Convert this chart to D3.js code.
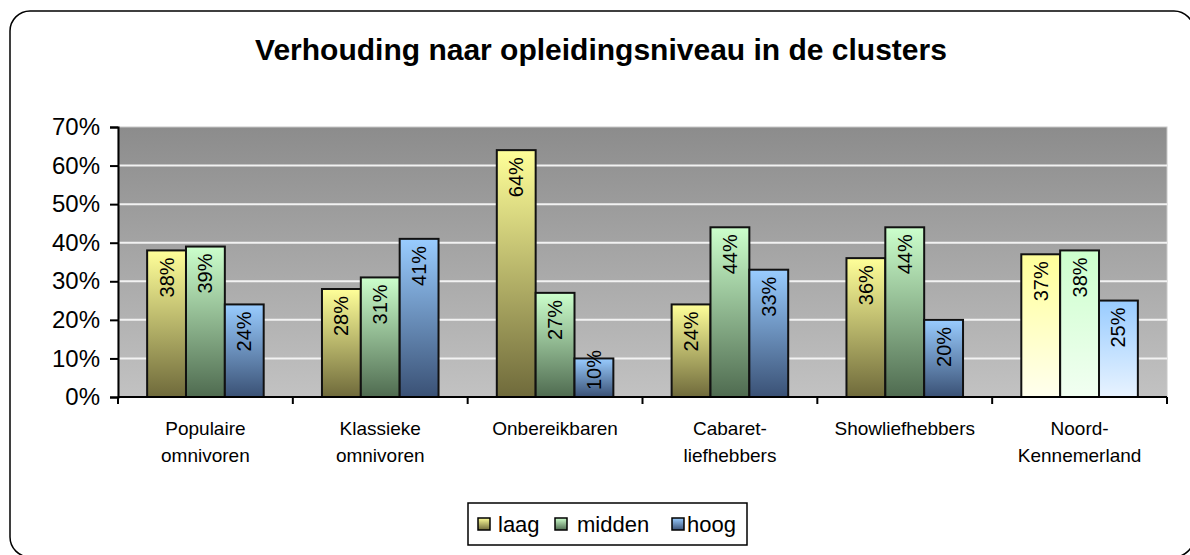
<!DOCTYPE html>
<html>
<head>
<meta charset="utf-8">
<script src="https://cdn.jsdelivr.net/npm/d3@7"></script>
<style>
  body { margin: 0; background: #fff; }
  text { font-family: "Liberation Sans", Arial, sans-serif; }
</style>
</head>
<body>
<div id="chart"></div>
<script>
// Data
const categories = [
  ['Populaire', 'omnivoren'],
  ['Klassieke', 'omnivoren'],
  ['Onbereikbaren'],
  ['Cabaret-', 'liefhebbers'],
  ['Showliefhebbers'],
  ['Noord-', 'Kennemerland']
];
const seriesNames = ['laag', 'midden', 'hoog'];
const laag = [0.38, 0.28, 0.64, 0.24, 0.36, 0.37];
const midden = [0.39, 0.31, 0.27, 0.44, 0.44, 0.38];
const hoog = [0.24, 0.41, 0.10, 0.33, 0.20, 0.25];
const yTicks = [0, 0.1, 0.2, 0.3, 0.4, 0.5, 0.6, 0.7];

const seriesValues = [laag, midden, hoog];
const topColors = ['#ffff99', '#ccffcc', '#99ccff'];
const bottomColors = ['#6f6a3b', '#4f6b50', '#3a5175'];
const lightBottoms = ['#ffffee', '#f2fff2', '#e8f3ff'];

const width = 1190, height = 555;
const margin = {top: 127, right: 23, bottom: 158, left: 118};
const innerW = width - margin.left - margin.right;
const innerH = height - margin.top - margin.bottom;

const svg = d3.select('#chart').append('svg')
    .attr('width', width)
    .attr('height', height);

const defs = svg.append('defs');

// plot area gradient
const bg = defs.append('linearGradient')
    .attr('id', 'bg').attr('x1', 0).attr('y1', 0).attr('x2', 0).attr('y2', 1);
bg.append('stop').attr('offset', '0%').attr('stop-color', '#8c8c8c');
bg.append('stop').attr('offset', '100%').attr('stop-color', '#c2c2c2');

// bar gradients
seriesNames.forEach((s, i) => {
  const g = defs.append('linearGradient')
      .attr('id', 'g-' + s).attr('x1', 0).attr('y1', 0).attr('x2', 0).attr('y2', 1);
  g.append('stop').attr('offset', '0%').attr('stop-color', topColors[i]);
  g.append('stop').attr('offset', '100%').attr('stop-color', bottomColors[i]);
  const l = defs.append('linearGradient')
      .attr('id', 'l-' + s).attr('x1', 0).attr('y1', 0).attr('x2', 0).attr('y2', 1);
  l.append('stop').attr('offset', '0%').attr('stop-color', topColors[i]);
  l.append('stop').attr('offset', '100%').attr('stop-color', lightBottoms[i]);
});

// outer rounded border
svg.append('rect')
    .attr('x', 10).attr('y', 11)
    .attr('width', 1184).attr('height', 546)
    .attr('rx', 20).attr('ry', 20)
    .attr('fill', '#fff')
    .attr('stroke', '#000')
    .attr('stroke-width', 1.5);

// title
svg.append('text')
    .attr('x', 601).attr('y', 60)
    .attr('text-anchor', 'middle')
    .style('font-size', '30px')
    .style('font-weight', 'bold')
    .text('Verhouding naar opleidingsniveau in de clusters');

const chart = svg.append('g')
    .attr('transform', `translate(${margin.left},${margin.top})`);

const x0 = d3.scaleBand()
    .domain(d3.range(categories.length))
    .range([0, innerW])
    .paddingInner(0)
    .paddingOuter(0);

// gap width 150% -> bar width = band / 4.5
const barW = x0.bandwidth() / 4.5;
const x1 = d3.scaleBand()
    .domain(seriesNames)
    .range([barW * 0.75, barW * 3.75]);

const y = d3.scaleLinear()
    .domain([0, 0.7])
    .range([innerH, 0]);

// plot background
chart.append('rect')
    .attr('width', innerW).attr('height', innerH)
    .attr('fill', 'url(#bg)')
    .attr('stroke', '#c8c8c8')
    .attr('stroke-width', 1);

// gridlines
chart.selectAll('.grid')
    .data(yTicks.filter(d => d > 0 && d < 0.7))
    .join('line')
    .attr('class', 'grid')
    .attr('x1', 0).attr('x2', innerW)
    .attr('y1', d => y(d)).attr('y2', d => y(d))
    .attr('stroke', '#f2f2f2')
    .attr('stroke-width', 2);

// bars
const rows = categories.map((c, i) => seriesNames.map((s, j) => ({cat: i, s: s, v: seriesValues[j][i]})));
const groups = chart.selectAll('.grp')
    .data(rows)
    .join('g')
    .attr('class', 'grp')
    .attr('transform', (d, i) => `translate(${x0(i)},0)`);

groups.selectAll('rect')
    .data(d => d)
    .join('rect')
    .attr('x', d => x1(d.s))
    .attr('y', d => y(d.v))
    .attr('width', x1.bandwidth())
    .attr('height', d => innerH - y(d.v))
    .attr('fill', d => d.cat === categories.length - 1 ? `url(#l-${d.s})` : `url(#g-${d.s})`)
    .attr('stroke', '#111')
    .attr('stroke-width', 2);

// value labels, rotated, near bar top
const labelLen = 40;
groups.selectAll('.val')
    .data(d => d)
    .join('text')
    .attr('class', 'val')
    .attr('transform', d => {
      let topY = y(d.v) + 7;
      if (topY + labelLen > innerH - 7) topY = innerH - 7 - labelLen;
      const cx = x1(d.s) + x1.bandwidth() / 2;
      return `translate(${cx + 7},${topY}) rotate(-90)`;
    })
    .attr('text-anchor', 'end')
    .style('font-size', '20px')
    .text(d => Math.round(d.v * 100) + '%');

// y axis
const yAxis = d3.axisLeft(y)
    .tickValues(yTicks)
    .tickSize(8)
    .tickPadding(10)
    .tickFormat(d3.format('.0%'));

chart.append('g')
    .attr('class', 'axis y-axis')
    .call(yAxis)
    .call(g => g.selectAll('line').attr('stroke', '#000').attr('stroke-width', 2))
    .call(g => g.select('.domain').attr('stroke', '#000').attr('stroke-width', 2))
    .call(g => g.selectAll('text').style('font-size', '24px').attr('fill', '#000'));

// x axis line with ticks at band edges
const xAxisG = chart.append('g')
    .attr('transform', `translate(0,${innerH})`);
xAxisG.append('line')
    .attr('x1', 0).attr('x2', innerW)
    .attr('stroke', '#000').attr('stroke-width', 2);
xAxisG.selectAll('.xt')
    .data(d3.range(categories.length + 1))
    .join('line')
    .attr('class', 'xt')
    .attr('x1', d => d === categories.length ? innerW : x0(d))
    .attr('x2', d => d === categories.length ? innerW : x0(d))
    .attr('y1', 0).attr('y2', 7)
    .attr('stroke', '#000').attr('stroke-width', 2);

// category labels
xAxisG.selectAll('.cat')
    .data(categories)
    .join('text')
    .attr('class', 'cat')
    .attr('text-anchor', 'middle')
    .attr('x', (d, i) => x0(i) + x0.bandwidth() / 2)
    .attr('y', 38)
    .style('font-size', '19px')
    .selectAll('tspan')
    .data(d => d)
    .join('tspan')
    .attr('x', function() { return d3.select(this.parentNode).attr('x'); })
    .attr('dy', (d, i) => i === 0 ? 0 : 27)
    .text(d => d);

// legend
const legend = svg.append('g').attr('transform', 'translate(468,503)');
legend.append('rect')
    .attr('width', 279).attr('height', 42)
    .attr('fill', '#fff').attr('stroke', '#000').attr('stroke-width', 1.5);
const swatchX = [10, 87, 204];
const labelX = [30, 109, 219];
const items = legend.selectAll('.li')
    .data(seriesNames)
    .join('g')
    .attr('class', 'li');
items.append('rect')
    .attr('x', (d, i) => swatchX[i])
    .attr('y', 15).attr('width', 12).attr('height', 12)
    .attr('fill', d => `url(#g-${d})`)
    .attr('stroke', '#000').attr('stroke-width', 1.5);
items.append('text')
    .attr('x', (d, i) => labelX[i]).attr('y', 29)
    .style('font-size', '22px')
    .text(d => d);
</script>
</body>
</html>
